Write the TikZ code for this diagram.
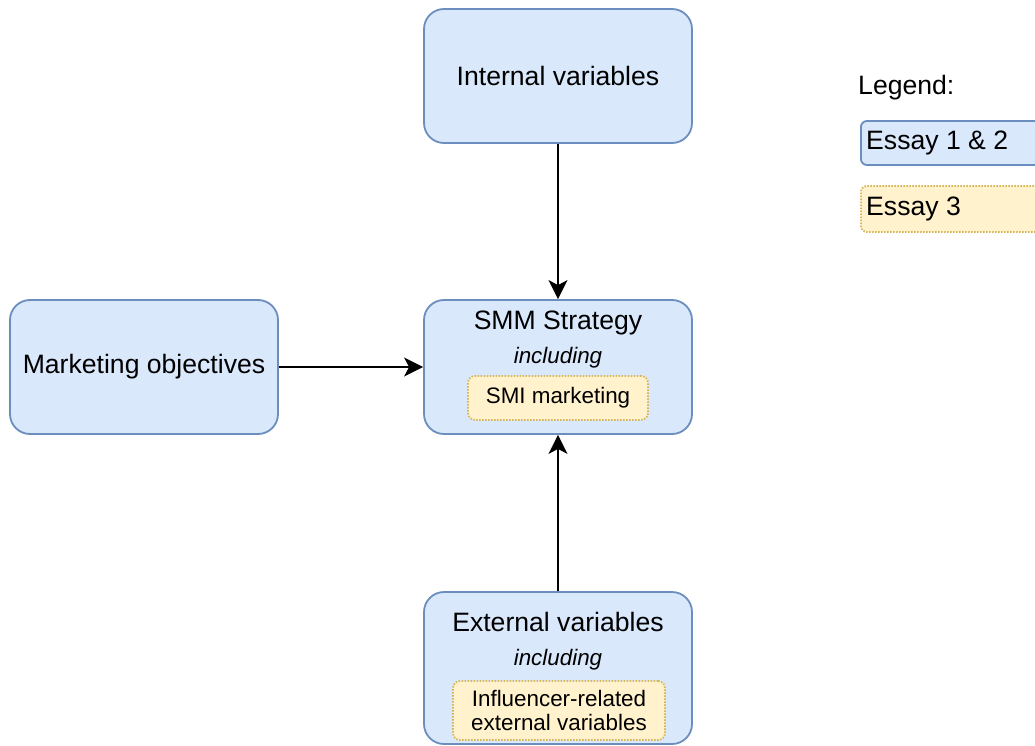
\documentclass[tikz,border=0pt]{standalone}
\usepackage{fontspec}
\setmainfont{Liberation Sans}
\usetikzlibrary{arrows.meta}
\definecolor{bfill}{HTML}{DAE8FC}
\definecolor{bline}{HTML}{6C8EBF}
\definecolor{yfill}{HTML}{FFF2CC}
\definecolor{yline}{HTML}{D6B656}
\tikzset{
  bluebox/.style={draw=bline, fill=bfill, line width=1.8pt, rounded corners=20pt,
    minimum width=268pt, minimum height=134pt, inner sep=0pt,
    font=\fontsize{26.6}{30}\selectfont},
  yelbox/.style={draw=yline, fill=yfill, line width=1.8pt, dash pattern=on 1.5pt off 1.5pt, rounded corners=7pt,
    inner sep=0pt, font=\fontsize{22.4}{26}\selectfont, align=center},
  bigtxt/.style={inner sep=0pt, font=\fontsize{26.6}{30}\selectfont},
  smalltxt/.style={inner sep=0pt, font=\fontsize{22.4}{26}\selectfont\itshape},
  conn/.style={draw=black, line width=2pt, -{Stealth[length=19pt,width=19pt,inset=5pt]}},
}
\begin{document}
\begin{tikzpicture}[x=1pt,y=-1pt]
\useasboundingbox (0,0) rectangle (1035,746);
% main boxes
\node[bluebox] (internal) at (558,76) {Internal variables};
\node[bluebox] (smm) at (558,367) {};
\node[bluebox] (mkt) at (144,367) {Marketing objectives};
\node[bluebox, minimum height=152pt] (ext) at (558,668) {};
% contents of SMM
\node[bigtxt] (smmtitle) at (558,323) {SMM Strategy};
\node[smalltxt] (smminc) at (558,358) {including};
\node[yelbox, minimum width=180pt, minimum height=44pt] (smi) at (558,398) {SMI marketing};
% contents of External
\node[bigtxt] (exttitle) at (558,622) {External variables};
\node[smalltxt] (extinc) at (558,660) {including};
\node[yelbox, minimum width=212pt, minimum height=59pt] (infl) at (559,710.5) {Influencer-related\\[-2pt]external variables};
% connectors
\draw[conn] (internal.south) -- (smm.north);
\draw[conn] (mkt.east) -- (smm.west);
\draw[conn] (ext.north) -- (smm.south);
% legend
\node[bigtxt, anchor=west] (legtitle) at (858,88) {Legend:};
\node[draw=bline, fill=bfill, line width=1.8pt, rounded corners=6pt, minimum width=200pt,
  minimum height=44pt, inner sep=0pt, anchor=west] (leg1) at (860,143) {};
\node[bigtxt, anchor=west] (leg1txt) at (866,143) {Essay 1 \& 2};
\node[draw=yline, fill=yfill, line width=1.8pt, dash pattern=on 1.5pt off 1.5pt, rounded corners=6pt, minimum width=200pt,
  minimum height=46pt, inner sep=0pt, anchor=west] (leg2) at (860,209) {};
\node[bigtxt, anchor=west] (leg2txt) at (866,209) {Essay 3};
\end{tikzpicture}
\end{document}
